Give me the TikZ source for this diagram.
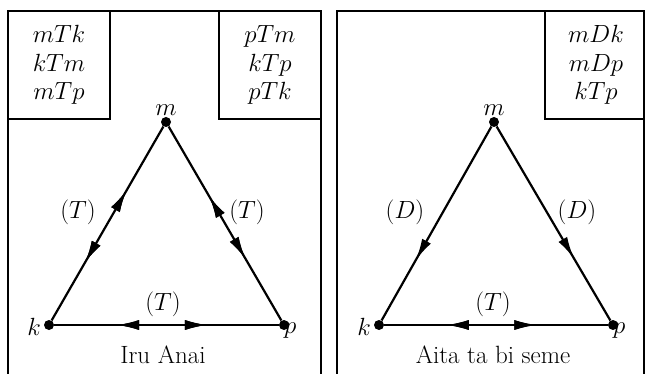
\documentclass[tikz,border=0pt]{standalone}
\usetikzlibrary{arrows.meta,decorations.markings}
\begin{document}
\begin{tikzpicture}[x=1pt,y=-1pt,
  frame/.style={line width=1.4pt},
  infobox/.style={draw,line width=1.4pt,minimum width=102pt,minimum height=108pt,inner sep=0pt,align=center,font=\fontsize{25}{28.5}\selectfont},
  dot/.style={circle,fill,inner sep=0pt,minimum size=10pt},
  lbl/.style={font=\fontsize{25}{28}\selectfont,inner sep=1pt},
  edge/.style={line width=2.2pt},
  fwd/.style={postaction={decorate},decoration={markings,mark=at position #1 with {\arrow{Latex[length=22pt,width=10pt]}}}},
  bwd/.style={postaction={decorate},decoration={markings,mark=at position #1 with {\arrowreversed{Latex[length=22pt,width=10pt]}}}}
]
\useasboundingbox (0,0) rectangle (645,374);
% left panel
\draw[frame] (8,380) -- (8,11) -- (321,11) -- (321,380);
\node[infobox] (bl1) at (59,65) {$mTk$\\$kTm$\\$mTp$};
\node[infobox] (bl2) at (270,65) {$pTm$\\$kTp$\\$pTk$};
\node[dot] (m1) at (166,122) {};
\node[dot] (k1) at (49,325) {};
\node[dot] (p1) at (284,325) {};
\node[lbl,anchor=south] (lm1) at (166,117) {$m$};
\node[lbl,anchor=east] (lk1) at (42,327) {$k$};
\node[lbl,anchor=west] (lp1) at (283,331) {$p$};
\draw[edge,fwd=0.67,bwd=0.3] (k1) -- (m1);
\draw[edge,bwd=0.36,fwd=0.68] (m1) -- (p1);
\draw[edge,bwd=0.28,fwd=0.68] (k1) -- (p1);
\node[lbl] (t1) at (78,212) {$(T)$};
\node[lbl] (t2) at (247,212) {$(T)$};
\node[lbl] (t3) at (163,304) {$(T)$};
\node[lbl] (c1) at (163,355) {Iru Anai};
% right panel
\draw[frame] (337,380) -- (337,11) -- (644,11) -- (644,380);
\node[infobox] (br) at (596,65) {$mDk$\\$mDp$\\$kTp$};
\node[dot] (m2) at (494,122) {};
\node[dot] (k2) at (379,325) {};
\node[dot] (p2) at (613,325) {};
\node[lbl,anchor=south] (lm2) at (494,117) {$m$};
\node[lbl,anchor=east] (lk2) at (372,327) {$k$};
\node[lbl,anchor=west] (lp2) at (612,331) {$p$};
\draw[edge,fwd=0.69] (m2) -- (k2);
\draw[edge,fwd=0.68] (m2) -- (p2);
\draw[edge,bwd=0.28,fwd=0.68] (k2) -- (p2);
\node[lbl] (d1) at (405,212) {$(D)$};
\node[lbl] (d2) at (577,212) {$(D)$};
\node[lbl] (t4) at (493,304) {$(T)$};
\node[lbl] (c2) at (493,355) {Aita ta bi seme};
\end{tikzpicture}
\end{document}
